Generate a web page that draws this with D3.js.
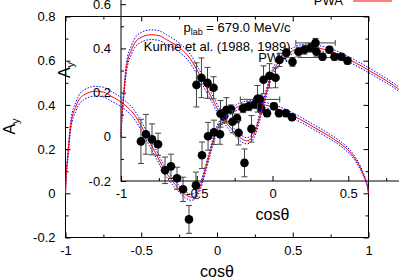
<!DOCTYPE html>
<html><head><meta charset="utf-8">
<script src="https://cdn.jsdelivr.net/npm/d3@7"></script>
<style>
html,body{margin:0;padding:0;background:#fff;}
svg{display:block;}
text{font-family:"Liberation Sans",Arial,Helvetica,sans-serif;fill:#000;}
</style>
</head><body><div id="chart"></div>
<script>
// PWA curve (red) and its error band (blue dotted)
const curveCos   = [-1,-0.995,-0.985,-0.965,-0.93,-0.88,-0.8,-0.75,-0.7,-0.6,-0.55,-0.5,-0.45,-0.4,-0.35,-0.3,-0.25,-0.2,-0.17,-0.14,-0.11,-0.08,-0.05,-0.02,0,0.05,0.1,0.15,0.2,0.25,0.3,0.4,0.5,0.6,0.7,0.8,0.85,0.9,0.95,0.98,0.995,1];
const curvePWA   = [0,0.08,0.165,0.31,0.395,0.445,0.462,0.458,0.44,0.395,0.36,0.305,0.24,0.175,0.11,0.06,0.02,-0.01,-0.018,-0.008,0.03,0.1,0.175,0.25,0.29,0.345,0.375,0.395,0.405,0.407,0.402,0.383,0.352,0.315,0.275,0.232,0.205,0.168,0.11,0.06,0.025,0];
const curveUpper = [0,0.09,0.18,0.33,0.415,0.467,0.484,0.48,0.462,0.415,0.38,0.325,0.26,0.193,0.127,0.076,0.035,0.004,-0.004,0.006,0.045,0.115,0.19,0.265,0.305,0.358,0.388,0.408,0.418,0.42,0.414,0.395,0.364,0.326,0.286,0.242,0.215,0.177,0.118,0.066,0.03,0];
const curveLower = [0,0.07,0.15,0.29,0.375,0.423,0.44,0.436,0.418,0.375,0.34,0.285,0.22,0.157,0.093,0.044,0.005,-0.024,-0.032,-0.022,0.015,0.085,0.16,0.235,0.275,0.332,0.362,0.382,0.392,0.394,0.39,0.371,0.34,0.304,0.264,0.222,0.195,0.159,0.102,0.054,0.02,0];

// Kunne et al. (1988, 1989) data
const dataCos    = [-0.502,-0.469,-0.429,-0.389,-0.343,-0.304,-0.264,-0.224,-0.185,-0.139,-0.099,-0.059,-0.020,0.020,0.046,0.092,0.132,0.172,0.211,0.251,0.284,0.290,0.330,0.376,0.409,0.455,0.495];
const dataAy     = [0.235,0.267,0.244,0.222,0.104,0.122,0.068,0.018,-0.118,0.036,0.172,0.258,0.276,0.267,0.348,0.380,0.339,0.385,0.394,0.403,0.425,0.385,0.362,0.394,0.362,0.362,0.344];
const dataAyErr  = [0.10,0.09,0.07,0.05,0.06,0.055,0.05,0.055,0.063,0.06,0.06,0.063,0.055,0.045,0.03,0.02,0.02,0.02,0.02,0.02,0.02,0.02,0.015,0.015,0.015,0.015,0.015];
const dataCosErr = [0,0,0,0,0,0,0,0,0,0,0,0,0,0,0,0,0,0,0,0,0.13,0,0,0,0,0,0];

// Axis ticks
const xTickValues = [-1,-0.5,0,0.5,1];
const xTickLabels = ["-1","-0.5","0","0.5","1"];
const xMinorTicks = [-0.75,-0.25,0.25,0.75];
const yTickValues = [-0.2,0,0.2,0.4,0.6,0.8];
const yTickLabels = ["-0.2","0","0.2","0.4","0.6","0.8"];
const yMinorTicks = [-0.1,0.1,0.3,0.5,0.7];

const W = 303, H = 221;
const svg = d3.select("#chart").append("svg").attr("width",399).attr("height",279);

function drawPanel(g){
  const x = d3.scaleLinear().domain([-1,1]).range([0,W]);
  const y = d3.scaleLinear().domain([-0.2,0.8]).range([H,0]);
  const fs = 13;

  const ax = (gen, t) => {
    const a = g.append("g").attr("transform", t).call(gen);
    a.select(".domain").remove();
    a.selectAll("line").attr("stroke","#000");
    a.selectAll("text").style("font-size", fs+"px").attr("fill","#000");
    return a;
  };
  ax(d3.axisBottom(x).tickValues(xTickValues).tickFormat((d,i)=>xTickLabels[i]).tickSize(-5).tickSizeOuter(0).tickPadding(8), `translate(0,${H})`);
  ax(d3.axisBottom(x).tickValues(xMinorTicks).tickFormat("").tickSize(-3).tickSizeOuter(0), `translate(0,${H})`);
  ax(d3.axisTop(x).tickValues(xTickValues).tickFormat("").tickSize(-5).tickSizeOuter(0), `translate(0,0)`);
  ax(d3.axisTop(x).tickValues(xMinorTicks).tickFormat("").tickSize(-3).tickSizeOuter(0), `translate(0,0)`);
  ax(d3.axisLeft(y).tickValues(yTickValues).tickFormat((d,i)=>yTickLabels[i]).tickSize(-5).tickSizeOuter(0).tickPadding(10), `translate(0,0)`);
  ax(d3.axisLeft(y).tickValues(yMinorTicks).tickFormat("").tickSize(-3).tickSizeOuter(0), `translate(0,0)`);
  ax(d3.axisRight(y).tickValues(yTickValues).tickFormat("").tickSize(-5).tickSizeOuter(0), `translate(${W},0)`);
  ax(d3.axisRight(y).tickValues(yMinorTicks).tickFormat("").tickSize(-3).tickSizeOuter(0), `translate(${W},0)`);

  g.append("rect").attr("x",0).attr("y",0).attr("width",W).attr("height",H)
    .attr("fill","none").attr("stroke","#000").attr("stroke-width",1);

  // axis titles
  const yl = g.append("text").attr("transform","translate(-51,110) rotate(-90)")
    .attr("text-anchor","middle").style("font-size","16px");
  yl.append("tspan").text("A");
  yl.append("tspan").attr("dy",4).style("font-size","11px").text("y");
  g.append("text").attr("x",x(0)).attr("y",260).attr("text-anchor","middle")
    .style("font-size","16px").text("cosθ");

  // annotation texts
  const t1 = g.append("text").attr("x",225).attr("y",15).attr("text-anchor","end").style("font-size",fs+"px");
  t1.append("tspan").text("p");
  t1.append("tspan").attr("dy",3).style("font-size","9px").text("lab");
  t1.append("tspan").attr("dy",-3).text(" = 679.0 MeV/c");
  g.append("text").attr("x",225).attr("y",34).attr("text-anchor","end").style("font-size",fs+"px")
    .text("Kunne et al. (1988, 1989)");

  // legend
  g.append("text").attr("x",222).attr("y",45).attr("text-anchor","end").style("font-size",fs+"px").text("PWA");
  g.append("line").attr("x1",232).attr("x2",271).attr("y1",41).attr("y2",41)
    .attr("stroke","#f00").attr("stroke-width",1);

  // curves
  const line = arr => d3.line().x((d,i)=>x(curveCos[i])).y(d=>y(d)).curve(d3.curveMonotoneX)(arr);
  [curveUpper, curveLower].forEach(arr => {
    g.append("path").attr("d", line(arr)).attr("fill","none")
      .attr("stroke","#0000ff").attr("stroke-width",1).attr("stroke-dasharray","1.5,1.5");
  });
  g.append("path").attr("d", line(curvePWA)).attr("fill","none")
    .attr("stroke","#f00").attr("stroke-width",1);

  // data points with error bars
  const pts = g.append("g");
  dataCos.forEach((c,i) => {
    const cx = x(c), cy = y(dataAy[i]);
    const y1 = y(dataAy[i]-dataAyErr[i]), y2 = y(dataAy[i]+dataAyErr[i]);
    const eb = pts.append("g").attr("stroke","#444").attr("stroke-width",1);
    eb.append("line").attr("x1",cx).attr("x2",cx).attr("y1",y1).attr("y2",y2);
    eb.append("line").attr("x1",cx-3).attr("x2",cx+3).attr("y1",y1).attr("y2",y1);
    eb.append("line").attr("x1",cx-3).attr("x2",cx+3).attr("y1",y2).attr("y2",y2);
    if (dataCosErr[i] > 0) {
      const xa = x(c-dataCosErr[i]), xb = x(c+dataCosErr[i]);
      eb.append("line").attr("x1",xa).attr("x2",xb).attr("y1",cy).attr("y2",cy);
      eb.append("line").attr("x1",xa).attr("x2",xa).attr("y1",cy-3).attr("y2",cy+3);
      eb.append("line").attr("x1",xb).attr("x2",xb).attr("y1",cy-3).attr("y2",cy+3);
    }
  });
  dataCos.forEach((c,i) => {
    pts.append("circle").attr("cx",x(c)).attr("cy",y(dataAy[i])).attr("r",4.3).attr("fill","#000");
  });
}

drawPanel(svg.append("g").attr("transform","translate(65.5,16.5)"));
drawPanel(svg.append("g").attr("transform","translate(121,-40)"));
</script>
</body></html>
